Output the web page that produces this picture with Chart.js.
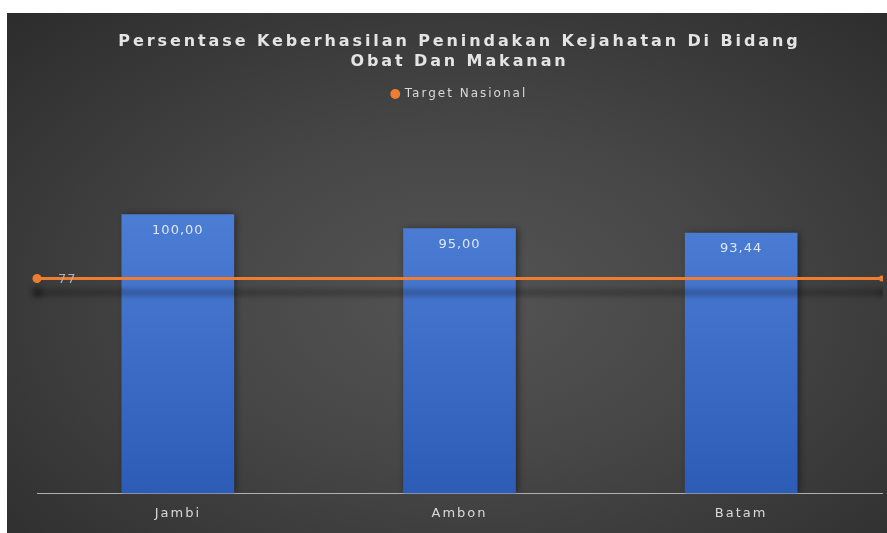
<!DOCTYPE html>
<html>
<head>
<meta charset="utf-8">
<script src="https://cdn.jsdelivr.net/npm/chart.js@4"></script>
<style>
    html, body { margin: 0; padding: 0; background: #ffffff; }
    #wrap {
        position: absolute;
        left: 7px;
        top: 13px;
        width: 880px;
        height: 520px;
        background: radial-gradient(ellipse at 52% 55%, #545454 0%, #474747 40%, #353535 80%, #2c2c2c 100%);
    }
</style>
</head>
<body>
<div id="wrap"><canvas id="chart" width="880" height="520"></canvas></div>
<script>
// Chart data
const titleLines = ['Persentase Keberhasilan Penindakan Kejahatan Di Bidang', 'Obat Dan Makanan'];
const cities = ['Jambi', 'Ambon', 'Batam'];
const successRates = [100.00, 95.00, 93.44];
const targetLabel = 'Target Nasional';
const targetValue = 77;

const FONT = '"DejaVu Sans", sans-serif';

// Format numbers with a decimal comma
function formatComma(v) {
    return v.toFixed(2).replace('.', ',');
}

// Wide tracking for legend and axis labels (measured and drawn the same way)
const tracking = {
    id: 'tracking',
    beforeLayout(chart) { chart.ctx.letterSpacing = '2px'; },
    afterLayout(chart) { chart.ctx.letterSpacing = '0px'; },
    beforeDraw(chart) { chart.ctx.letterSpacing = '2px'; },
    beforeDatasetsDraw(chart) { chart.ctx.letterSpacing = '0px'; }
};

// Title drawn by hand so it can use letter spacing
const spacedTitle = {
    id: 'spacedTitle',
    afterDraw(chart) {
        const ctx = chart.ctx;
        const area = chart.chartArea;
        const cx = (area.left + area.right) / 2;
        ctx.save();
        ctx.font = 'bold 16px ' + FONT;
        ctx.fillStyle = '#e4e4e4';
        ctx.textAlign = 'center';
        ctx.textBaseline = 'middle';
        ctx.letterSpacing = '2.9px';
        titleLines.forEach((line, i) => {
            ctx.fillText(line, cx, 29 + i * 20);
        });
        ctx.restore();
    }
};

// Soft shadows under the bars and the target line
const shadows = {
    id: 'shadows',
    beforeDatasetDraw(chart, args) {
        const ctx = chart.ctx;
        ctx.save();
        if (args.meta.type === 'line') {
            ctx.shadowColor = 'rgba(0,0,0,0.55)';
            ctx.shadowBlur = 6;
            ctx.shadowOffsetY = 14;
        } else {
            ctx.shadowColor = 'rgba(0,0,0,0.45)';
            ctx.shadowBlur = 7;
            ctx.shadowOffsetX = 2;
        }
    },
    afterDatasetDraw(chart) {
        chart.ctx.restore();
    }
};

// Value labels inside the bars and next to the target line
const valueLabels = {
    id: 'valueLabels',
    afterDatasetsDraw(chart) {
        const ctx = chart.ctx;
        ctx.save();
        ctx.font = '13px ' + FONT;
        ctx.letterSpacing = '1px';
        ctx.textBaseline = 'middle';

        const barMeta = chart.getDatasetMeta(1);
        ctx.fillStyle = '#dfe6f2';
        ctx.textAlign = 'center';
        barMeta.data.forEach((bar, i) => {
            ctx.fillText(formatComma(successRates[i]), bar.x, bar.y + 16);
        });

        const lineMeta = chart.getDatasetMeta(0);
        const first = lineMeta.data[0];
        ctx.fillStyle = '#b0b0b0';
        ctx.textAlign = 'left';
        ctx.fillText(String(targetValue), first.x + 21, first.y + 1);
        ctx.restore();
    }
};

function barGradient(context) {
    const area = context.chart.chartArea;
    if (!area) return '#4472c4';
    const g = context.chart.ctx.createLinearGradient(0, area.top + 100, 0, area.bottom);
    g.addColorStop(0, '#4d7ed5');
    g.addColorStop(1, '#2d5cb7');
    return g;
}

const ctx = document.getElementById('chart').getContext('2d');
new Chart(ctx, {
    data: {
        labels: cities,
        datasets: [
            {
                type: 'line',
                label: targetLabel,
                xAxisID: 'xLine',
                data: [{ x: 0, y: targetValue }, { x: 1, y: targetValue }],
                borderColor: '#ed7d31',
                backgroundColor: '#ed7d31',
                borderWidth: 3,
                pointRadius: [4.5, 3],
                pointBorderWidth: 0,
                pointBackgroundColor: '#ed7d31',
                clip: { left: 10, right: 1, top: 10, bottom: 10 },
                order: 0
            },
            {
                type: 'bar',
                label: 'Persentase',
                xAxisID: 'x',
                data: successRates,
                backgroundColor: barGradient,
                grouped: false,
                barPercentage: 1,
                categoryPercentage: 0.4,
                order: 1
            }
        ]
    },
    options: {
        responsive: false,
        animation: false,
        layout: {
            padding: { top: 65, left: 30, right: 5, bottom: 0 }
        },
        scales: {
            x: {
                type: 'category',
                grid: { display: false, drawTicks: false },
                border: { display: true, color: '#b0b0b0', width: 1 },
                ticks: {
                    color: '#d9d9d9',
                    padding: 12,
                    font: { family: FONT, size: 13 }
                }
            },
            xLine: {
                type: 'linear',
                display: false,
                min: 0,
                max: 1
            },
            y: {
                display: false,
                min: 0,
                max: 137.4
            }
        },
        plugins: {
            legend: {
                position: 'top',
                labels: {
                    filter: item => item.datasetIndex === 0,
                    usePointStyle: true,
                    pointStyle: 'circle',
                    boxWidth: 7,
                    boxHeight: 7,
                    padding: 10,
                    color: '#d9d9d9',
                    font: { family: FONT, size: 12 }
                }
            },
            tooltip: { enabled: false }
        }
    },
    plugins: [tracking, spacedTitle, shadows, valueLabels]
});
</script>
</body>
</html>
